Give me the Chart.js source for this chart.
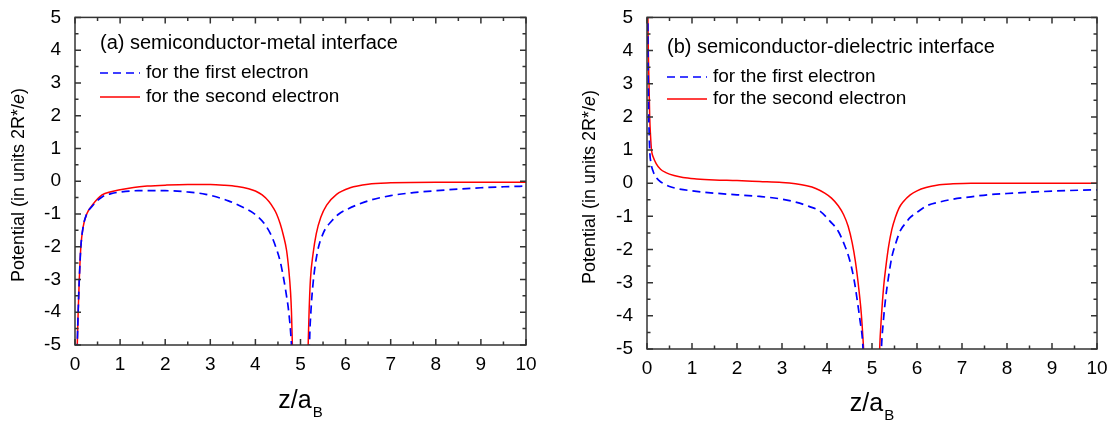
<!DOCTYPE html>
<html lang="en">
<head>
<meta charset="UTF-8">
<title>Potential near interfaces</title>
<script src="https://cdn.jsdelivr.net/npm/chart.js"></script>
<style>
    body { margin: 0; background: #fff; }
    .row { display: flex; width: 1114px; height: 425px; }
    canvas { display: block; }
</style>
</head>
<body>
<div class="row">
    <canvas id="metalChart" width="557" height="425"></canvas>
    <canvas id="dielChart" width="557" height="425"></canvas>
</div>

<script>
    // tick values
    const xTicks = [0, 1, 2, 3, 4, 5, 6, 7, 8, 9, 10];
    const yTicks = [-5, -4, -3, -2, -1, 0, 1, 2, 3, 4, 5];

    // (a) semiconductor-metal interface, first electron (blue dashed)
    const metalZ1 = [0.035, 0.05, 0.07, 0.095, 0.13, 0.18, 0.26, 0.39, 0.6, 0.8, 1.0, 1.4, 2.0, 2.5, 2.9, 3.4, 3.8, 4.0, 4.2, 4.35, 4.45, 4.55, 4.63, 4.69, 4.74, 4.8, 4.83,
                     5.19, 5.2, 5.23, 5.28, 5.37, 5.5, 5.7, 5.85, 6.0, 6.5, 7.0, 7.5, 8.0, 8.5, 9.0, 9.5, 10];
    const metalV1 = [-6.0, -5.0, -4.0, -3.0, -2.0, -1.4, -1.0, -0.75, -0.48, -0.38, -0.33, -0.29, -0.29, -0.33, -0.4, -0.6, -0.85, -1.02, -1.3, -1.65, -2.0, -2.45, -3.0, -3.5, -4.0, -5.0, -6.0,
                     -6.0, -5.0, -4.0, -3.1, -2.2, -1.6, -1.2, -1.0, -0.88, -0.6, -0.44, -0.35, -0.29, -0.24, -0.2, -0.17, -0.15];

    // (a) semiconductor-metal interface, second electron (red solid)
    const metalZ2 = [0.035, 0.05, 0.07, 0.095, 0.13, 0.18, 0.26, 0.39, 0.6, 0.8, 1.0, 1.3, 1.6, 2.0, 2.5, 3.0, 3.3, 3.6, 3.85, 4.0, 4.15, 4.3, 4.4, 4.47, 4.55, 4.62, 4.69, 4.74, 4.78, 4.8, 4.82, 4.845,
                     5.155, 5.17, 5.19, 5.22, 5.28, 5.35, 5.45, 5.58, 5.8, 6.1, 6.5, 7.0, 8.0, 9.0, 10];
    const metalV2 = [-6.0, -5.0, -4.0, -3.0, -2.0, -1.4, -1.0, -0.72, -0.42, -0.32, -0.26, -0.19, -0.15, -0.12, -0.1, -0.1, -0.12, -0.16, -0.23, -0.3, -0.42, -0.62, -0.82, -1.0, -1.3, -1.65, -2.1, -2.7, -3.4, -4.0, -5.0, -6.5,
                     -6.0, -5.0, -4.0, -3.0, -2.2, -1.6, -1.1, -0.73, -0.4, -0.2, -0.09, -0.05, -0.03, -0.03, -0.03];

    // (b) semiconductor-dielectric interface, first electron (blue dashed)
    const dielZ1 = [0.015, 0.025, 0.04, 0.06, 0.09, 0.13, 0.2, 0.27, 0.35, 0.5, 0.7, 1.0, 1.5, 2.0, 2.5, 3.0, 3.3, 3.6, 3.85, 4.07, 4.25, 4.4, 4.5, 4.6, 4.7, 4.74, 4.78, 4.8, 4.82,
                    5.19, 5.21, 5.25, 5.3, 5.37, 5.44, 5.53, 5.63, 5.75, 5.85, 6.0, 6.22, 6.5, 6.81, 7.2, 7.56, 8.0, 8.5, 9.0, 9.63, 10];
    const dielV1 = [6.0, 3.5, 2.0, 1.0, 0.6, 0.38, 0.18, 0.08, 0.0, -0.1, -0.17, -0.23, -0.3, -0.35, -0.4, -0.48, -0.57, -0.7, -0.85, -1.15, -1.45, -1.9, -2.3, -2.9, -3.8, -4.2, -4.6, -5.0, -6.0,
                    -6.0, -5.0, -4.2, -3.5, -2.8, -2.23, -1.8, -1.43, -1.2, -1.03, -0.88, -0.68, -0.57, -0.48, -0.41, -0.35, -0.31, -0.27, -0.24, -0.21, -0.2];

    // (b) semiconductor-dielectric interface, second electron (red solid)
    const dielZ2 = [0.012, 0.02, 0.03, 0.045, 0.06, 0.08, 0.1, 0.14, 0.2, 0.3, 0.42, 0.6, 0.8, 1.1, 1.5, 2.0, 2.5, 3.0, 3.3, 3.55, 3.75, 3.95, 4.1, 4.25, 4.37, 4.47, 4.56, 4.63, 4.7, 4.76, 4.8, 4.82, 4.85,
                    5.15, 5.17, 5.21, 5.26, 5.31, 5.37, 5.44, 5.52, 5.6, 5.7, 5.85, 6.0, 6.2, 6.44, 6.8, 7.2, 8.0, 9.0, 10];
    const dielV2 = [7.0, 5.0, 3.9, 3.0, 2.0, 1.4, 1.0, 0.78, 0.6, 0.42, 0.32, 0.23, 0.17, 0.13, 0.1, 0.08, 0.05, 0.02, -0.02, -0.08, -0.16, -0.3, -0.45, -0.68, -0.95, -1.3, -1.8, -2.35, -3.1, -3.9, -4.7, -5.2, -6.5,
                    -6.0, -5.0, -4.0, -3.1, -2.5, -1.9, -1.4, -1.03, -0.75, -0.55, -0.35, -0.23, -0.13, -0.06, -0.02, 0.0, 0.0, 0.0, 0.0];

    const seriesNames = ['for the first electron', 'for the second electron'];
    const FONT = "'Liberation Sans', Arial, sans-serif";

    // frame + inward major/minor ticks on all four sides
    const framePlugin = {
        id: 'frame',
        afterDraw(chart) {
            const { ctx, chartArea: a, scales: { x, y } } = chart;
            ctx.save();
            ctx.strokeStyle = '#333';
            ctx.lineWidth = 1.5;
            ctx.strokeRect(a.left, a.top, a.right - a.left, a.bottom - a.top);
            ctx.beginPath();
            xTicks.forEach((v, i) => {
                const marks = [[v, 6]];
                if (i < xTicks.length - 1) marks.push([(v + xTicks[i + 1]) / 2, 3.5]);
                marks.forEach(([t, len]) => {
                    const px = x.getPixelForValue(t);
                    ctx.moveTo(px, a.bottom); ctx.lineTo(px, a.bottom - len);
                    ctx.moveTo(px, a.top); ctx.lineTo(px, a.top + len);
                });
            });
            yTicks.forEach((v, i) => {
                const marks = [[v, 6]];
                if (i < yTicks.length - 1) marks.push([(v + yTicks[i + 1]) / 2, 3.5]);
                marks.forEach(([t, len]) => {
                    const py = y.getPixelForValue(t);
                    ctx.moveTo(a.left, py); ctx.lineTo(a.left + len, py);
                    ctx.moveTo(a.right, py); ctx.lineTo(a.right - len, py);
                });
            });
            ctx.stroke();
            ctx.restore();
        }
    };

    // panel title, legend and axis titles
    const textPlugin = {
        id: 'texts',
        afterDraw(chart, args, o) {
            const { ctx, chartArea: a } = chart;
            ctx.save();
            ctx.fillStyle = '#000';
            ctx.textBaseline = 'middle';
            ctx.textAlign = 'left';

            ctx.font = '20px ' + FONT;
            ctx.fillText(o.title, o.tx, o.ty);

            // legend
            chart.data.datasets.forEach((ds, i) => {
                const ly = o.ly[i];
                ctx.save();
                ctx.strokeStyle = ds.borderColor;
                ctx.lineWidth = ds.borderWidth;
                ctx.setLineDash(ds.borderDash || []);
                ctx.beginPath();
                ctx.moveTo(o.tx, ly); ctx.lineTo(o.tx + 40, ly);
                ctx.stroke();
                ctx.restore();
                ctx.font = '19px ' + FONT;
                ctx.fillText(ds.label, o.tx + 46, ly);
            });

            // y title, rotated, with italic e
            const parts = [['Potential (in units 2R*/', ''], ['e', 'italic '], [')', '']];
            const ysize = '18px ';
            let total = 0;
            parts.forEach(p => { ctx.font = p[1] + ysize + FONT; total += ctx.measureText(p[0]).width; });
            ctx.translate(o.yx, o.yy);
            ctx.rotate(-Math.PI / 2);
            let pos = -total / 2;
            parts.forEach(p => {
                ctx.font = p[1] + ysize + FONT;
                ctx.fillText(p[0], pos, 0);
                pos += ctx.measureText(p[0]).width;
            });
            ctx.setTransform(1, 0, 0, 1, 0, 0);

            // x title z/a with subscript B
            ctx.textBaseline = 'alphabetic';
            ctx.font = '25px ' + FONT;
            const w1 = ctx.measureText('z/a').width;
            ctx.font = '15px ' + FONT;
            const w2 = ctx.measureText('B').width;
            const cx = (a.left + a.right) / 2;
            const sx = cx - (w1 + w2 + 1) / 2;
            ctx.font = '25px ' + FONT;
            ctx.fillText('z/a', sx, o.xb);
            ctx.font = '15px ' + FONT;
            ctx.fillText('B', sx + w1 + 1, o.xb + 9);
            ctx.restore();
        }
    };

    function makeDatasets(z1, v1, z2, v2) {
        return [
            {
                label: seriesNames[0],
                data: z1.map((z, i) => ({ x: z, y: v1[i] })),
                borderColor: '#0000ff',
                borderWidth: 1.7,
                borderDash: [8, 5],
                pointRadius: 0,
                fill: false,
                cubicInterpolationMode: 'monotone'
            },
            {
                label: seriesNames[1],
                data: z2.map((z, i) => ({ x: z, y: v2[i] })),
                borderColor: '#ff0000',
                borderWidth: 1.5,
                pointRadius: 0,
                fill: false,
                cubicInterpolationMode: 'monotone'
            }
        ];
    }

    function makeChart(id, datasets, lay, texts) {
        const tickFont = { family: FONT, size: 19 };
        return new Chart(document.getElementById(id), {
            type: 'line',
            data: { datasets: datasets },
            options: {
                responsive: false,
                animation: false,
                devicePixelRatio: 1,
                layout: { padding: { top: lay.top, right: lay.right, left: 0, bottom: 0 } },
                plugins: {
                    legend: { display: false },
                    tooltip: { enabled: false },
                    texts: texts
                },
                scales: {
                    x: {
                        type: 'linear', min: 0, max: 10,
                        grid: { display: false }, border: { display: false },
                        afterBuildTicks: s => { s.ticks = xTicks.map(v => ({ value: v })); },
                        ticks: { font: tickFont, color: '#000', padding: 0, maxRotation: 0, autoSkip: false },
                        afterFit: s => { s.height = lay.xh; }
                    },
                    y: {
                        type: 'linear', min: -5, max: 5,
                        grid: { display: false }, border: { display: false },
                        afterBuildTicks: s => { s.ticks = yTicks.map(v => ({ value: v })); },
                        ticks: { font: tickFont, color: '#000', padding: 6, autoSkip: false },
                        afterFit: s => { s.width = lay.yw; }
                    }
                }
            },
            plugins: [framePlugin, textPlugin]
        });
    }

    makeChart('metalChart', makeDatasets(metalZ1, metalV1, metalZ2, metalV2),
        { top: 11, right: 31, xh: 80, yw: 75 },
        { title: '(a) semiconductor-metal interface', tx: 100, ty: 43, ly: [73, 97], yx: 19, yy: 185, xb: 408 });

    makeChart('dielChart', makeDatasets(dielZ1, dielV1, dielZ2, dielV2),
        { top: 15, right: 17, xh: 76, yw: 90 },
        { title: '(b) semiconductor-dielectric interface', tx: 110, ty: 47, ly: [77, 99], yx: 33, yy: 187, xb: 411 });
</script>
</body>
</html>
